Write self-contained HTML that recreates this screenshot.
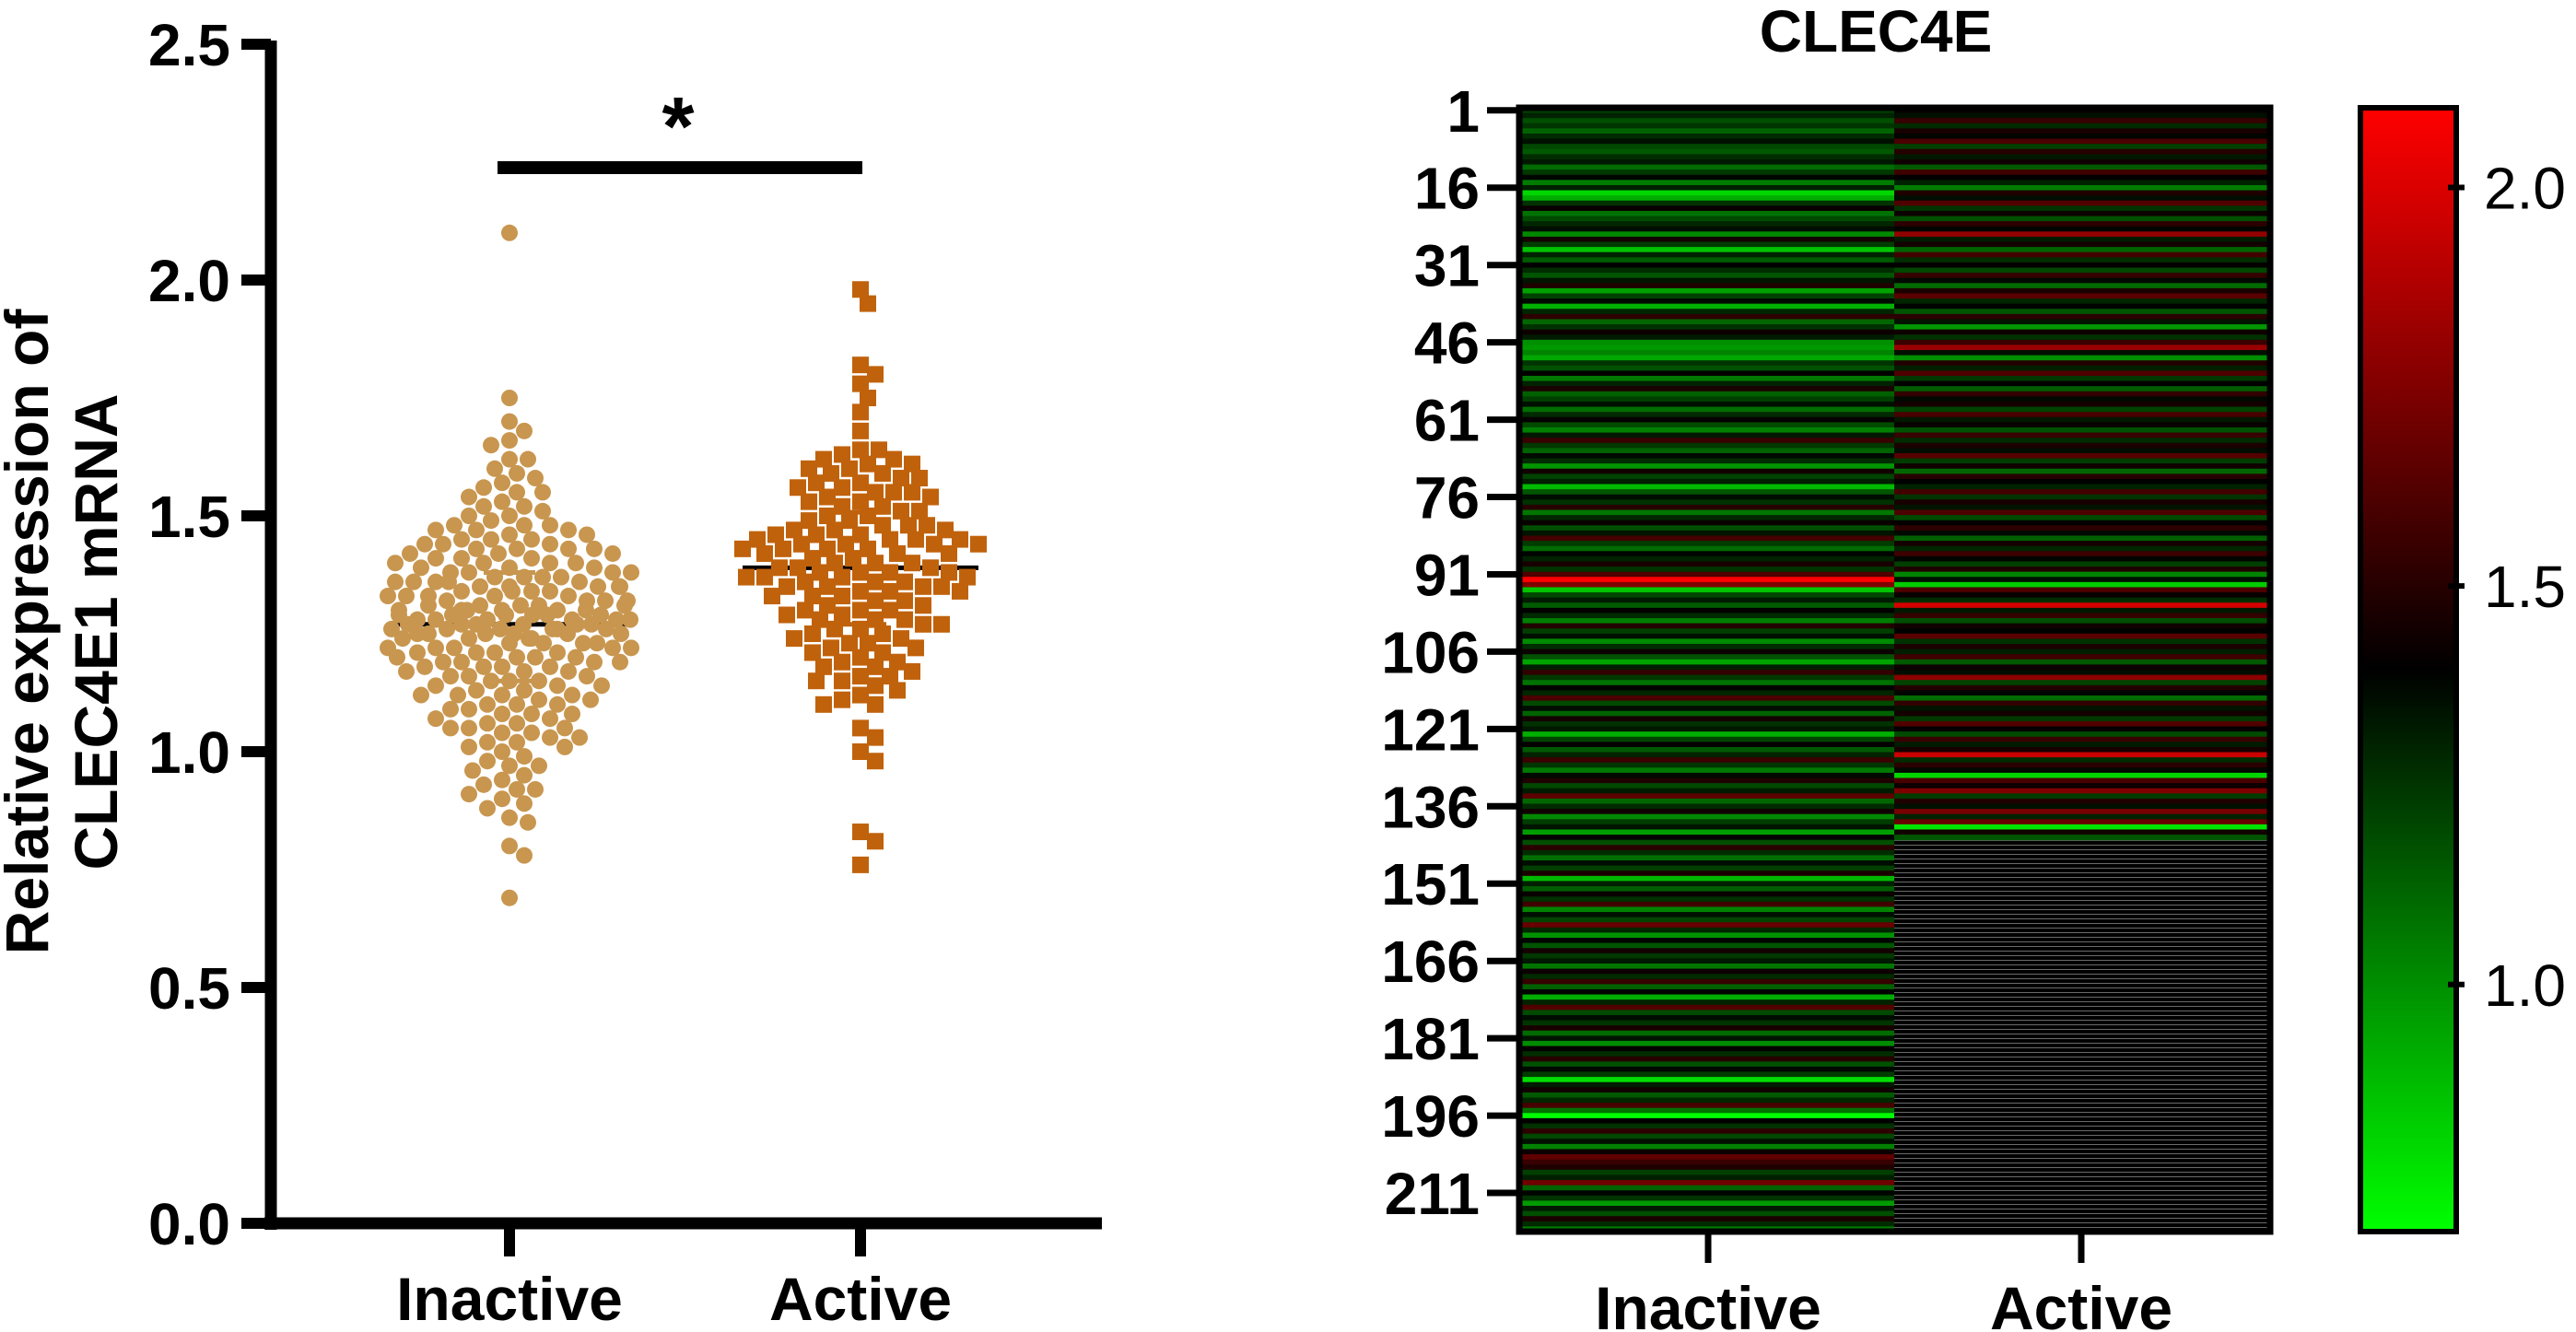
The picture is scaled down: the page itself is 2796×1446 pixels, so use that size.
<!DOCTYPE html>
<html><head><meta charset="utf-8"><style>
html,body{margin:0;padding:0;background:#fff;}
svg{display:block;font-family:"Liberation Sans",sans-serif;font-weight:bold;}
</style></head><body>
<svg id="chart" width="2796" height="1446" viewBox="0 0 2796 1446" xmlns="http://www.w3.org/2000/svg">
<defs>
<linearGradient id="cbar" x1="0" y1="1" x2="0" y2="0">
<stop offset="0" stop-color="#00ff00"/><stop offset="0.5" stop-color="#000000"/><stop offset="1" stop-color="#ff0000"/>
</linearGradient>
<pattern id="emptyp" width="10" height="5" patternUnits="userSpaceOnUse"><rect width="10" height="5" fill="#000"/><rect y="2" width="10" height="1" fill="#6a6a6a"/></pattern>
</defs>
<g id="scatter"></g>
<g id="heat"></g>
</svg>
<script>
const categories = ["Inactive", "Active"];
const inactiveValues = [1.22,1.30,1.18,1.25,1.12,1.28,1.35,1.20,1.15,1.27,1.33,1.10,1.24,1.38,1.05,
1.31,0.80,0.92,1.26,1.42,1.08,1.19,1.29,1.36,1.02,1.45,1.23,0.86,1.30,1.14,
1.40,1.27,1.16,1.34,1.48,0.95,1.21,1.37,0.90,1.29,1.52,1.11,1.26,1.43,1.32,
1.00,0.97,1.03,0.93,1.25,1.17,1.39,1.06,1.30,1.47,1.13,1.22,1.35,1.09,1.28,
1.41,1.19,1.04,1.33,1.55,1.24,1.12,1.37,1.27,0.98,1.44,1.21,1.31,0.88,1.16,
1.36,1.26,1.50,1.07,1.29,1.42,1.18,1.34,1.58,1.23,1.10,1.38,1.30,1.46,1.25,
1.62,2.10,1.75,0.85,1.20,1.32,1.14,1.40,1.28,1.05,1.49,1.22,1.35,1.01,1.27,
1.43,1.17,0.94,1.31,1.53,1.24,1.08,1.39,1.29,1.60,1.19,1.36,1.12,1.45,1.26,
1.33,0.91,1.21,1.41,1.15,1.30,1.56,1.25,1.06,1.37,1.48,1.20,1.32,1.65,1.11,
1.28,1.44,1.02,1.23,1.34,0.96,1.40,1.18,1.51,1.27,1.09,1.36,1.22,1.47,0.89,
1.31,1.14,1.42,1.26,1.57,1.03,1.35,1.21,1.68,1.29,0.99,1.38,1.16,1.45,1.24,
1.33,1.07,1.43,1.28,1.54,1.13,1.39,0.92,1.30,1.62,1.19,1.36,1.25,1.46,1.10,
1.34,1.01,1.41,1.27,1.50,1.17,1.37,1.23,0.78,1.32,1.44,1.15,1.29,1.59,1.08,
0.69,1.40,1.26,1.52,1.20,1.35,1.04,1.43,1.66,1.55,1.48,1.22,1.31,1.70,1.12,
1.38,1.25,0.97,1.33,1.18,1.47,1.28,1.05];
const activeValues = [1.42,1.35,1.55,1.28,1.46,1.38,1.60,1.22,1.50,1.33,1.44,1.15,1.57,1.40,1.30,
1.05,1.48,1.36,1.62,1.25,1.43,1.18,1.52,1.38,1.80,1.32,1.45,1.12,1.58,1.27,
1.41,1.20,1.54,1.37,1.10,1.47,1.64,1.29,1.39,1.16,1.51,1.34,0.98,1.43,1.26,
1.56,1.82,1.35,1.00,1.49,1.31,1.61,1.24,1.40,1.14,1.53,1.37,1.45,1.21,1.59,
1.33,1.42,1.17,1.55,1.28,1.47,1.36,1.63,1.23,1.44,1.11,1.50,1.39,1.30,1.58,
1.25,1.46,1.34,1.61,1.19,1.41,1.52,1.37,1.13,1.45,1.29,1.56,1.38,1.22,1.48,
1.03,1.35,0.83,1.60,1.42,1.27,1.98,1.33,1.54,1.18,1.44,1.39,1.64,1.26,1.47,
1.31,1.57,1.15,1.43,1.36,1.78,1.21,1.49,1.38,1.10,1.53,1.34,1.45,1.24,1.62,
1.40,1.19,1.55,1.32,1.46,1.95,1.28,1.51,1.37,0.81,1.59,1.43,1.75,1.23,1.48,
1.35,1.72,1.30,1.68,0.76,1.44,1.16];
const yTicks = [0.0, 0.5, 1.0, 1.5, 2.0, 2.5];
const yTickLabels = ["0.0","0.5","1.0","1.5","2.0","2.5"];
const rowTickLabels = [1,16,31,46,61,76,91,106,121,136,151,166,181,196,211];
const colorbarTicks = [1.0, 1.5, 2.0];
const colorbarTickLabels = ["1.0","1.5","2.0"];
const totalRows = 218;

const NS = "http://www.w3.org/2000/svg";
function mk(parent, tag, attrs, text) {
  const e = document.createElementNS(NS, tag);
  for (const k in attrs) e.setAttribute(k, attrs[k]);
  if (text !== undefined) e.textContent = text;
  parent.appendChild(e);
  return e;
}
const sc = document.getElementById("scatter");
const Y0 = 1328, Y1 = 48, VMAX = 2.5;
const yScale = v => Y0 - (v / VMAX) * (Y0 - Y1);
const xCat = [553, 934];
const AX = 294;

let el = mk(sc, "line", {x1: AX, y1: Y1 - 4, x2: AX, y2: Y0 + 7, stroke: "#000", "stroke-width": 13});


el = mk(sc, "line", {x1: AX - 7, y1: Y0, x2: 1196, y2: Y0, stroke: "#000", "stroke-width": 13});


yTicks.forEach((t, i) => {
  const y = yScale(t);
  let tk = mk(sc, "line", {x1: 262, y1: y, x2: AX, y2: y, stroke: "#000", "stroke-width": 12});
  
  
  let lb = mk(sc, "text", {x: 250, y: y + 23, "text-anchor": "end", "font-size": 64}, yTickLabels[i]);
  
  
});
categories.forEach((c, i) => {
  let tk = mk(sc, "line", {x1: xCat[i], y1: Y0, x2: xCat[i], y2: 1364, stroke: "#000", "stroke-width": 12});
  
  
  let lb = mk(sc, "text", {x: xCat[i], y: 1433, "text-anchor": "middle", "font-size": 66}, c);
  
  
});
let yt = mk(sc, "text", {transform: "translate(52,686) rotate(-90)", "text-anchor": "middle", "font-size": 66}, "Relative expression of");


let yt2 = mk(sc, "text", {transform: "translate(127,686) rotate(-90)", "text-anchor": "middle", "font-size": 66}, "CLEC4E1 mRNA");



let sb = mk(sc, "line", {x1: 540, y1: 182, x2: 936, y2: 182, stroke: "#000", "stroke-width": 14});


let st = mk(sc, "text", {x: 736, y: 168, "text-anchor": "middle", "font-size": 90}, "*");



function quant(arr, q) {
  const s = arr.slice().sort((a, b) => a - b);
  const p = (s.length - 1) * q, lo = Math.floor(p), hi = Math.ceil(p);
  return s[lo] + (s[hi] - s[lo]) * (p - lo);
}
function swarm(values, cx, maxHalf, minD) {
  const pts = values.map(v => ({v, y: yScale(v)})).sort((a, b) => a.y - b.y);
  const placed = [];
  pts.forEach(p => {
    let best = null;
    for (let k = 0; k < 200; k++) {
      const off = (k % 2 ? 1 : -1) * Math.ceil(k / 2) * 4;
      if (Math.abs(off) > maxHalf) break;
      let ok = true;
      for (const q of placed) {
        const dx = q.x - (cx + off), dy = q.y - p.y;
        if (dx * dx + dy * dy < minD * minD) { ok = false; break; }
      }
      if (ok) { best = off; break; }
    }
    if (best === null) best = ((placed.length % 2) ? 1 : -1) * ((placed.length * 37) % maxHalf);
    p.x = cx + best;
    placed.push(p);
  });
  return placed;
}
const colors = ["#C8964F", "#C0620C"];
[inactiveValues, activeValues].forEach((vals, gi) => {
  const g = mk(sc, "g", {});
  
  
  const medY = yScale(quant(vals, 0.5));
  let ml = mk(g, "line", {x1: xCat[gi] - 128, y1: medY, x2: xCat[gi] + 128, y2: medY, stroke: "#000", "stroke-width": 5});
  
  
  const pts = swarm(vals, xCat[gi], 132, 17);
  pts.forEach(p => {
    let m;
    if (gi === 0) m = mk(g, "circle", {cx: p.x, cy: p.y, r: 9, fill: colors[0]});
    else m = mk(g, "rect", {x: p.x - 9, y: p.y - 9, width: 18, height: 18, fill: colors[1]});
    
    
  });
  [0.25, 0.75].forEach(q => {
    const y = yScale(quant(vals, q));
    let l = mk(g, "line", {x1: xCat[gi] - 28, y1: y, x2: xCat[gi] + 28, y2: y, stroke: colors[gi], "stroke-width": 5});
    
    
  });
});

const hm = document.getElementById("heat");
const HX0 = 1649, HX1 = 2464, HXM = 2056, HY0 = 117, HY1 = 1337;
const rowH = (HY1 - HY0) / totalRows;
const rowY = r => HY0 + (r - 1) * rowH;
const all = inactiveValues.concat(activeValues);
const vmin = Math.min(...all), vmax = Math.max(...all), vmid = (vmin + vmax) / 2;
function col(v) {
  if (v <= vmid) { const t = (vmid - v) / (vmid - vmin); return "rgb(0," + Math.round(255 * t) + ",0)"; }
  const t = (v - vmid) / (vmax - vmid); return "rgb(" + Math.round(255 * t) + ",0,0)";
}
let bg = mk(hm, "rect", {x: HXM, y: HY0, width: HX1 - HXM, height: HY1 - HY0, fill: "url(#emptyp)"});


[[inactiveValues, HX0, HXM], [activeValues, HXM, HX1]].forEach(([vals, xa, xb]) => {
  vals.forEach((v, i) => {
    let c = mk(hm, "rect", {x: xa, y: rowY(i + 1), width: xb - xa, height: rowH + 0.6, fill: col(v)});
    
    
  });
});
let fr = mk(hm, "rect", {x: HX0, y: HY0, width: HX1 - HX0, height: HY1 - HY0, fill: "none", stroke: "#000", "stroke-width": 7});


rowTickLabels.forEach(r => {
  const y = rowY(r) + rowH / 2;
  let tk = mk(hm, "line", {x1: 1614, y1: y, x2: HX0, y2: y, stroke: "#000", "stroke-width": 7});
  
  
  let lb = mk(hm, "text", {x: 1606, y: y + 23, "text-anchor": "end", "font-size": 64}, String(r));
  
  
});
[1854, 2259].forEach((x, i) => {
  let tk = mk(hm, "line", {x1: x, y1: HY1, x2: x, y2: 1371, stroke: "#000", "stroke-width": 7});
  
  
  let lb = mk(hm, "text", {x: x, y: 1443, "text-anchor": "middle", "font-size": 66}, categories[i]);
  
  
});
let tt = mk(hm, "text", {x: 2036, y: 56, "text-anchor": "middle", "font-size": 64}, "CLEC4E");



const CX0 = 2562, CX1 = 2666;
const cbY = v => HY1 - (v - vmin) / (vmax - vmin) * (HY1 - HY0);
let cb = mk(hm, "rect", {x: CX0, y: HY0, width: CX1 - CX0, height: HY1 - HY0, fill: "url(#cbar)", stroke: "#000", "stroke-width": 6});


colorbarTicks.forEach((t, i) => {
  const y = cbY(t);
  let tk = mk(hm, "line", {x1: CX1 - 9, y1: y, x2: CX1 + 9, y2: y, stroke: "#000", "stroke-width": 6});
  
  
  let lb = mk(hm, "text", {x: 2696, y: y + 23, "font-size": 64, "font-weight": "normal"}, colorbarTickLabels[i]);
  
  
});
</script>
</body></html>
